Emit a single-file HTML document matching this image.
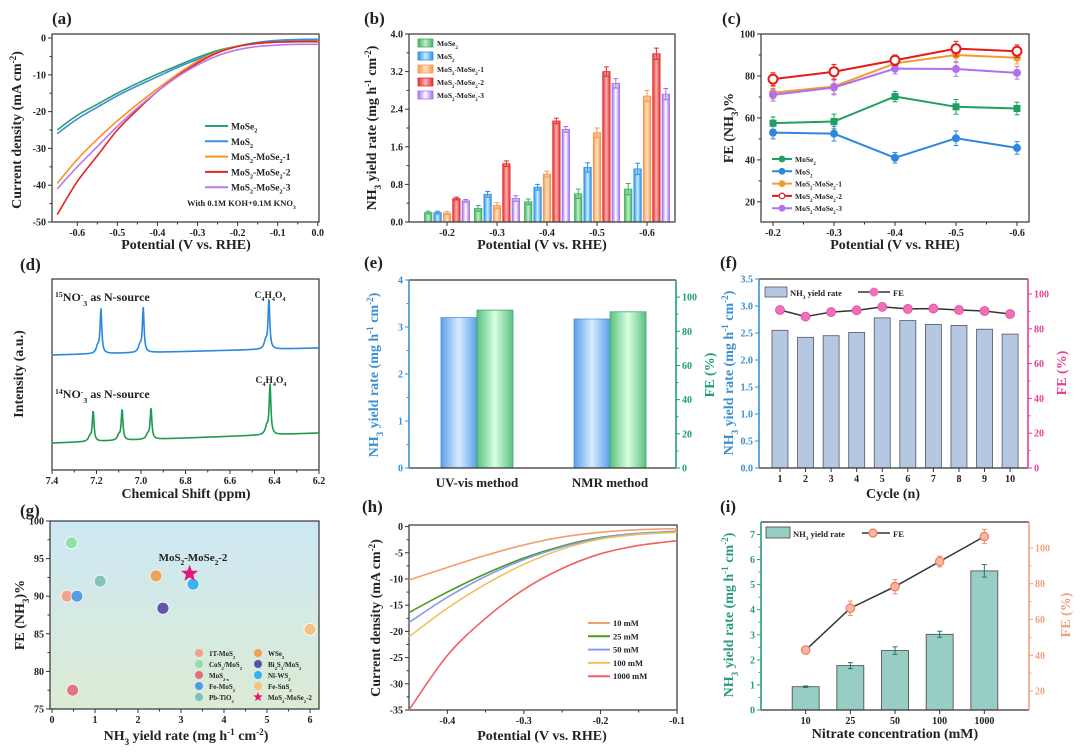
<!DOCTYPE html>
<html><head><meta charset="utf-8"><style>
html,body{margin:0;padding:0;background:#fff;}
svg{display:block;font-family:"Liberation Serif","Noto Serif CJK SC",serif;}
</style></head><body>
<svg id="fig" width="1080" height="754" viewBox="0 0 1080 754" xmlns="http://www.w3.org/2000/svg">
<defs>
<linearGradient id="gBg" x1="0" y1="0" x2="0" y2="1"><stop offset="0" stop-color="#cde8f4"/><stop offset="1" stop-color="#dcebd4"/></linearGradient>
</defs>
</svg>
<script>
// ---------- data ----------
// (a)
const aPot=[-0.65,-0.6,-0.55,-0.5,-0.45,-0.4,-0.35,-0.3,-0.25,-0.2,-0.15,-0.1,-0.05,0];
const aMoSe2=[-25,-21,-18,-15,-12.3,-9.8,-7.5,-5.3,-3.4,-2.2,-1.5,-1,-0.8,-0.7];
const aMoS2=[-26,-22,-18.8,-15.7,-13,-10.5,-8,-5.8,-3.8,-2.2,-1.2,-0.6,-0.4,-0.3];
const aM1=[-39.5,-33,-27.5,-22.5,-18,-13.8,-9.8,-6.3,-3.8,-2.2,-1.5,-1.1,-1,-0.9];
const aM2=[-48,-39,-32,-25,-19.5,-14.5,-10.3,-6.8,-4,-2.3,-1.4,-1.1,-1,-1];
const aM3=[-41,-35,-29.5,-24,-19,-14.5,-10.5,-7.3,-4.8,-3.2,-2.3,-1.9,-1.7,-1.7];
// (b)
const bCats=['-0.2','-0.3','-0.4','-0.5','-0.6'];
const bMoSe2=[0.2,0.29,0.43,0.6,0.7];
const bMoS2=[0.2,0.59,0.74,1.16,1.13];
const bM1=[0.19,0.35,1.02,1.9,2.68];
const bM2=[0.5,1.24,2.15,3.2,3.58];
const bM3=[0.45,0.5,1.97,2.95,2.72];
const bErr=[0.03,0.06,0.06,0.1,0.12];
// (c)
const cCats=['-0.2','-0.3','-0.4','-0.5','-0.6'];
const cMoSe2=[57.5,58.3,70.2,65.3,64.5];
const cMoS2=[53,52.5,41,50.3,45.7];
const cM1=[72,75,86,90,88.7];
const cM2=[78.5,82,87.5,93,91.8];
const cM3=[71,74.5,83.5,83.3,81.5];
const cErr=[3,3.5,2.5,3.5,3];
// (d) peaks: [ppm, height]
const d15Peaks=[[7.18,23],[6.99,23],[6.425,26]];
const d15Base=[60.2,63.9];
const d14Peaks=[[7.215,15.7],[7.085,16],[6.955,16],[6.42,26]];
const d14Base=[14.1,19.4];
// (e)
const eCats=['UV-vis method','NMR method'];
const eYield=[3.2,3.17];
const eFE=[92.4,91.4];
// (f)
const fCycles=[1,2,3,4,5,6,7,8,9,10];
const fYield=[2.55,2.42,2.45,2.51,2.78,2.73,2.66,2.64,2.57,2.48];
const fFE=[90.8,87,89.6,90.6,92.6,91.4,91.6,90.8,90.2,88.5];
// (g)
const gNames=['1T-MoS_{2}','CoS_{2}/MoS_{2}','MoS_{2-x}','Fe-MoS_{2}','Pb-TiO_{2}','WSe_{2}','Bi_{2}S_{3}/MoS_{2}','Ni-WS_{2}','Fe-SnS_{2}'];
const gX=[0.35,0.45,0.48,0.58,1.12,2.42,2.58,3.28,6.0];
const gY=[90,97.1,77.5,90,92,92.7,88.4,91.6,85.6];
const gColors=['#f4a08a','#8ee0a8','#e0707c','#4f9ae8','#7cc4b8','#f0a050','#5b4fa8','#35b0f0','#f8c080'];
const gStar=[3.2,93];
// (h)
const hPot=[-0.45,-0.4,-0.35,-0.3,-0.25,-0.2,-0.15,-0.1];
const h10=[-10.2,-7.8,-5.5,-3.5,-2,-1.1,-0.6,-0.4];
const h25=[-16.4,-12.5,-9,-6,-3.7,-2.1,-1.3,-0.9];
const h50=[-18.3,-13.5,-9.5,-6.3,-3.9,-2.2,-1.3,-1];
const h100=[-21,-15.6,-11,-7.2,-4.3,-2.4,-1.5,-1.1];
const h1000=[-35,-24.6,-17.5,-12,-8,-5.2,-3.6,-2.7];
// (i)
const iCats=['10','25','50','100','1000'];
const iYield=[0.93,1.77,2.37,3.02,5.55];
const iYErr=[0.03,0.12,0.15,0.12,0.25];
const iFE=[42.9,66.3,78.4,92.4,106.4];
const iFEErr=[1.5,4,4,3,4];

// ---------- helpers ----------
const NS='http://www.w3.org/2000/svg';
const svg=document.getElementById('fig');
function el(tag,attrs,name,parent){
  const e=document.createElementNS(NS,tag);
  for(const k in attrs) e.setAttribute(k,attrs[k]);
  
  
  (parent||svg).appendChild(e);
  return e;
}
function fmt(s){
  return s.replace(/_\{([^}]*)\}/g,'<tspan baseline-shift="sub" font-size="65%">$1</tspan>')
          .replace(/\^\{([^}]*)\}/g,'<tspan baseline-shift="super" font-size="65%">$1</tspan>');
}
function text(x,y,s,size,name,opts){
  const e=el('text',Object.assign({x:x,y:y,'font-size':size,'font-weight':'bold','text-anchor':'middle',fill:'#222'},opts||{}),name);
  e.innerHTML=fmt(s);return e;
}
function rtext(x,y,s,size,name,opts){
  return text(x,y,s,size,name,Object.assign({transform:'rotate(-90 '+x+' '+y+')'},opts||{}));
}
function P(x0,x1,y0,y1,xd,yd,yd2){
  const p={x0,x1,y0,y1};
  p.sx=v=>x0+(v-xd[0])/(xd[1]-xd[0])*(x1-x0);
  p.sy=v=>y1-(v-yd[0])/(yd[1]-yd[0])*(y1-y0);
  if(yd2) p.sy2=v=>y1-(v-yd2[0])/(yd2[1]-yd2[0])*(y1-y0);
  return p;
}
function frame(p,name,bg){
  el('rect',{x:p.x0,y:p.y0,width:p.x1-p.x0,height:p.y1-p.y0,fill:bg||'none',stroke:'#333','stroke-width':1.2},name);
}
function yTicks(p,vals,labels,name,o){
  o=o||{};const right=o.right,sy=right?p.sy2:p.sy,col=o.color||'#222';
  const x=right?p.x1:p.x0,d=right?1:-1;
  if(o.axisColor) el('line',{x1:x,x2:x,y1:p.y0,y2:p.y1,stroke:o.axisColor,'stroke-width':1.6},name+'-line');
  vals.forEach((v,i)=>{
    const y=sy(v);
    el('line',{x1:x,x2:x+4*d,y1:y,y2:y,stroke:o.axisColor||'#333','stroke-width':1},name+'-tick');
    text(x+6*d,y+3.5,labels[i],o.size||10,name+'-label',{'text-anchor':right?'start':'end',fill:col});
    if(o.minor&&i<vals.length-1){const ym=sy((v+vals[i+1])/2);
      el('line',{x1:x,x2:x+2.5*d,y1:ym,y2:ym,stroke:o.axisColor||'#333','stroke-width':1},name+'-minor-tick');}
  });
}
function xTicks(p,vals,labels,name,o){
  o=o||{};
  vals.forEach((v,i)=>{
    const x=p.sx(v);
    el('line',{x1:x,x2:x,y1:p.y1,y2:p.y1+4,stroke:'#333','stroke-width':1},name+'-tick');
    if(labels[i]!=='') text(x,p.y1+14,labels[i],o.size||10,name+'-label');
    if(o.minor&&i<vals.length-1){const xm=p.sx((v+vals[i+1])/2);
      el('line',{x1:xm,x2:xm,y1:p.y1,y2:p.y1+2.5,stroke:'#333','stroke-width':1},name+'-minor-tick');}
  });
}
function smooth(pts){
  let d='M'+pts[0][0]+','+pts[0][1];
  for(let i=0;i<pts.length-1;i++){
    const p0=pts[i-1]||pts[i],p1=pts[i],p2=pts[i+1],p3=pts[i+2]||p2;
    const c1=[p1[0]+(p2[0]-p0[0])/6,p1[1]+(p2[1]-p0[1])/6];
    const c2=[p2[0]-(p3[0]-p1[0])/6,p2[1]-(p3[1]-p1[1])/6];
    d+='C'+c1[0]+','+c1[1]+' '+c2[0]+','+c2[1]+' '+p2[0]+','+p2[1];
  }
  return d;
}
function curve(p,xs,ys,color,name,w){
  el('path',{d:smooth(xs.map((x,i)=>[p.sx(x),p.sy(ys[i])])),fill:'none',stroke:color,'stroke-width':w||1.6},name);
}
function grad(id,c,light){
  const defs=svg.querySelector('defs');
  const g=el('linearGradient',{id:id,x1:0,y1:0,x2:1,y2:0},'gradient',defs);
  el('stop',{offset:0,'stop-color':c},'stop',g);
  el('stop',{offset:0.5,'stop-color':light},'stop',g);
  el('stop',{offset:1,'stop-color':c},'stop',g);
}
function errbar(x,yTop,yBot,color,name){
  el('line',{x1:x,x2:x,y1:yTop,y2:yBot,stroke:color,'stroke-width':1},name);
  el('line',{x1:x-2.5,x2:x+2.5,y1:yTop,y2:yTop,stroke:color,'stroke-width':1},name+'-cap');
  el('line',{x1:x-2.5,x2:x+2.5,y1:yBot,y2:yBot,stroke:color,'stroke-width':1},name+'-cap');
}
function rng(a,b,s){const r=[];for(let v=a;v<=b+1e-9;v+=s)r.push(+v.toFixed(4));return r;}

// ---------- panel (a) ----------
(function(){
  const p=P(52,319,34,222,[-0.663,0.003],[-50,1.1]);
  frame(p,'panel-a-frame');
  const yv=rng(-50,0,10);yTicks(p,yv,yv.map(String),'panel-a-y',{minor:true});
  const xv=[-0.6,-0.5,-0.4,-0.3,-0.2,-0.1,0];xTicks(p,xv,xv.map(v=>v.toFixed(1)),'panel-a-x',{minor:true});
  const cols=['#2aa070','#3b8ee0','#f5922a','#e52222','#bb77ee'];
  const ser=[aMoSe2,aMoS2,aM1,aM2,aM3];
  const names=['MoSe_{2}','MoS_{2}','MoS_{2}-MoSe_{2}-1','MoS_{2}-MoSe_{2}-2','MoS_{2}-MoSe_{2}-3'];
  ser.forEach((s,i)=>curve(p,aPot,s,cols[i],'panel-a-curve-'+i));
  names.forEach((n,i)=>{const y=126+i*15.3;
    el('line',{x1:205,x2:228,y1:y,y2:y,stroke:cols[i],'stroke-width':2},'panel-a-legend-line');
    text(231,y+3.5,n,9.5,'panel-a-legend-label',{'text-anchor':'start'});});
  text(187,206,'With 0.1M KOH+0.1M KNO_{3}',8.5,'panel-a-condition-note',{'text-anchor':'start'});
  text(52,24,'(a)',17,'panel-a-letter',{'text-anchor':'start'});
  text(186,249,'Potential (V vs. RHE)',14,'panel-a-x-title');
  rtext(21,130,'Current density (mA cm^{-2})',14,'panel-a-y-title');
})();

// ---------- panel (b) ----------
(function(){
  const p=P(409,675,34,222,[-0.76,4.56],[0,4]);
  const cols=[['#3fb060','#c0f0c8'],['#2f8ee8','#c8f0ff'],['#f59a50','#ffe0c0'],['#e03030','#ffb0b0'],['#a070f0','#ffffff']];
  cols.forEach((c,i)=>grad('gb'+i,c[0],c[1]));
  const ser=[bMoSe2,bMoS2,bM1,bM2,bM3];
  const bw=7.4;
  ser.forEach((s,k)=>s.forEach((v,i)=>{
    const cx=p.sx(i)+(k-2)*9.4;
    el('rect',{x:cx-bw/2,y:p.sy(v),width:bw,height:p.sy(0)-p.sy(v),fill:'url(#gb'+k+')',stroke:cols[k][0],'stroke-width':0.8},'panel-b-bar');
    errbar(cx,p.sy(v+bErr[i]),p.sy(Math.max(0,v-bErr[i])),cols[k][0],'panel-b-error-bar');
  }));
  frame(p,'panel-b-frame');
  const yv=rng(0,4,0.8);yTicks(p,yv,yv.map(v=>v.toFixed(1)),'panel-b-y',{minor:true});
  xTicks(p,[0,1,2,3,4],bCats,'panel-b-x');
  const names=['MoSe_{2}','MoS_{2}','MoS_{2}-MoSe_{2}-1','MoS_{2}-MoSe_{2}-2','MoS_{2}-MoSe_{2}-3'];
  names.forEach((n,i)=>{const y=43+i*13;
    el('rect',{x:418,y:y-4,width:15,height:8,fill:'url(#gb'+i+')',stroke:cols[i][0],'stroke-width':0.8},'panel-b-legend-swatch');
    text(437,y+3,n,7.5,'panel-b-legend-label',{'text-anchor':'start'});});
  text(364,24,'(b)',17,'panel-b-letter',{'text-anchor':'start'});
  text(542,249,'Potential (V vs. RHE)',14,'panel-b-x-title');
  rtext(376,128,'NH_{3} yield rate (mg h^{-1} cm^{-2})',14,'panel-b-y-title');
})();

// ---------- panel (c) ----------
(function(){
  const p=P(761,1029,34,222,[-0.197,4.197],[10.4,100]);
  frame(p,'panel-c-frame');
  const yv=[20,40,60,80,100];yTicks(p,yv,yv.map(String),'panel-c-y',{minor:true});
  xTicks(p,[0,1,2,3,4],cCats,'panel-c-x',{minor:true});
  const cols=['#1fa060','#2f86e0','#f59a30','#e51a1a','#b070ee'];
  const ser=[cMoSe2,cMoS2,cM1,cM3,cM2];const ord=[0,1,2,4,3];
  ser.forEach((s,j)=>{const k=ord[j];
    el('path',{d:'M'+s.map((v,i)=>p.sx(i)+','+p.sy(v)).join('L'),fill:'none',stroke:cols[k],'stroke-width':2},'panel-c-line-'+k);
    s.forEach((v,i)=>{const x=p.sx(i),y=p.sy(v);
      errbar(x,p.sy(v+cErr[i]),p.sy(v-cErr[i]),cols[k],'panel-c-error-bar');
      if(k===0) el('rect',{x:x-3.5,y:y-3.5,width:7,height:7,fill:cols[k]},'panel-c-marker');
      else if(k===3) el('circle',{cx:x,cy:y,r:4.5,fill:'#fff',stroke:cols[k],'stroke-width':2},'panel-c-marker');
      else el('circle',{cx:x,cy:y,r:4,fill:cols[k]},'panel-c-marker');
    });
  });
  const names=['MoSe_{2}','MoS_{2}','MoS_{2}-MoSe_{2}-1','MoS_{2}-MoSe_{2}-2','MoS_{2}-MoSe_{2}-3'];
  names.forEach((n,i)=>{const y=159+i*12.3;
    el('line',{x1:772,x2:792,y1:y,y2:y,stroke:cols[i],'stroke-width':2},'panel-c-legend-line');
    el('circle',{cx:782,cy:y,r:2.8,fill:i===3?'#fff':cols[i],stroke:cols[i],'stroke-width':1.2},'panel-c-legend-marker');
    text(795,y+3,n,7.5,'panel-c-legend-label',{'text-anchor':'start'});});
  text(722,24,'(c)',17,'panel-c-letter',{'text-anchor':'start'});
  text(895,249,'Potential (V vs. RHE)',14,'panel-c-x-title');
  rtext(733,128,'FE (NH_{3})%',14,'panel-c-y-title');
})();

// ---------- panel (d) ----------
(function(){
  const p=P(52,319,279,470,[7.4,6.2],[0,100]);
  frame(p,'panel-d-frame');
  const xv=rng(6.2,7.4,0.2).reverse();xTicks(p,xv,xv.map(v=>v.toFixed(1)),'panel-d-x',{minor:true});
  function spec(peaks,base,color,name){
    const pts=[];
    for(let x=7.4;x>=6.2;x-=0.002){
      let y=base[0]+(base[1]-base[0])*(7.4-x)/1.2;
      peaks.forEach(pk=>{
        y+=pk[1]/(1+Math.pow((x-pk[0])/0.0045,2));
        y+=0.15*pk[1]/(1+Math.pow((x-pk[0]-0.015)/0.008,2));
      });
      pts.push(p.sx(x).toFixed(2)+','+p.sy(y).toFixed(2));
    }
    el('path',{d:'M'+pts.join('L'),fill:'none',stroke:color,'stroke-width':1.6},name);
  }
  spec(d15Peaks,d15Base,'#2a88e0','panel-d-spectrum-15N');
  spec(d14Peaks,d14Base,'#1e9a50','panel-d-spectrum-14N');
  text(55,301,'^{15}NO^{-}_{3} as N-source',12,'panel-d-label-15N',{'text-anchor':'start'});
  text(55,398,'^{14}NO^{-}_{3} as N-source',12,'panel-d-label-14N',{'text-anchor':'start'});
  text(270,298,'C_{4}H_{4}O_{4}',9.5,'panel-d-peak-label');
  text(271,383,'C_{4}H_{4}O_{4}',9.5,'panel-d-peak-label');
  text(20,270,'(d)',17,'panel-d-letter',{'text-anchor':'start'});
  text(186,498,'Chemical Shift (ppm)',14,'panel-d-x-title');
  rtext(23,374,'Intensity (a.u.)',14,'panel-d-y-title');
})();

// ---------- panel (e) ----------
(function(){
  const p=P(409,676,280,468,[-0.511,1.496],[0,4],[0,110]);
  grad('geB','#5aa0e8','#d8ecff');grad('geG','#5cc080','#d8ffe0');
  eYield.forEach((v,i)=>el('rect',{x:p.sx(i)-36,y:p.sy(v),width:36,height:p.sy(0)-p.sy(v),fill:'url(#geB)',stroke:'#4a90d8','stroke-width':0.8},'panel-e-yield-bar'));
  eFE.forEach((v,i)=>el('rect',{x:p.sx(i),y:p.sy2(v),width:36,height:p.sy2(0)-p.sy2(v),fill:'url(#geG)',stroke:'#3aa870','stroke-width':0.8},'panel-e-fe-bar'));
  el('line',{x1:p.x0,x2:p.x1,y1:p.y1,y2:p.y1,stroke:'#333','stroke-width':1.2},'panel-e-x-axis');
  el('line',{x1:p.x0,x2:p.x1,y1:p.y0,y2:p.y0,stroke:'#333','stroke-width':1.2},'panel-e-top-axis');
  const yv=[0,1,2,3,4];yTicks(p,yv,yv.map(String),'panel-e-y-left',{minor:true,color:'#3a8fd0',axisColor:'#3a8fd0'});
  const y2=[0,20,40,60,80,100];yTicks(p,y2,y2.map(String),'panel-e-y-right',{right:true,minor:true,color:'#1e9e70',axisColor:'#1e9e70'});
  eCats.forEach((c,i)=>text(p.sx(i),487,c,13,'panel-e-category-label'));
  text(364,268,'(e)',17,'panel-e-letter',{'text-anchor':'start'});
  rtext(378,375,'NH_{3} yield rate (mg h^{-1} cm^{-2})',14,'panel-e-y-left-title',{fill:'#3a8fd0'});
  rtext(714,375,'FE (%)',14,'panel-e-y-right-title',{fill:'#1e9e70'});
})();

// ---------- panel (f) ----------
(function(){
  const p=P(759,1028,279,468,[0.18,10.7],[0,3.5],[0,108.6]);
  fYield.forEach((v,i)=>el('rect',{x:p.sx(fCycles[i])-8,y:p.sy(v),width:16,height:p.sy(0)-p.sy(v),fill:'#b4c8e2',stroke:'#556','stroke-width':0.8},'panel-f-yield-bar'));
  el('path',{d:'M'+fFE.map((v,i)=>p.sx(fCycles[i])+','+p.sy2(v)).join('L'),fill:'none',stroke:'#333','stroke-width':1.5},'panel-f-fe-line');
  fFE.forEach((v,i)=>el('circle',{cx:p.sx(fCycles[i]),cy:p.sy2(v),r:4.5,fill:'#f070b8',stroke:'#e04a9e','stroke-width':0.8},'panel-f-fe-point'));
  el('line',{x1:p.x0,x2:p.x1,y1:p.y1,y2:p.y1,stroke:'#333','stroke-width':1.2},'panel-f-x-axis');
  el('line',{x1:p.x0,x2:p.x1,y1:p.y0,y2:p.y0,stroke:'#333','stroke-width':1.2},'panel-f-top-axis');
  const yv=rng(0,3.5,0.5);yTicks(p,yv,yv.map(v=>v.toFixed(1)),'panel-f-y-left',{color:'#3a8fd0',axisColor:'#3a8fd0'});
  const y2=[0,20,40,60,80,100];yTicks(p,y2,y2.map(String),'panel-f-y-right',{right:true,minor:true,color:'#e8409a',axisColor:'#e8409a'});
  xTicks(p,fCycles,fCycles.map(String),'panel-f-x');
  el('rect',{x:765,y:287,width:22,height:10,fill:'#b4c8e2',stroke:'#556','stroke-width':0.8},'panel-f-legend-swatch');
  text(790,296,'NH_{3} yield rate',8.5,'panel-f-legend-label',{'text-anchor':'start'});
  el('line',{x1:858,x2:890,y1:292,y2:292,stroke:'#333','stroke-width':1.5},'panel-f-legend-line');
  el('circle',{cx:874,cy:292,r:4.5,fill:'#f070b8'},'panel-f-legend-marker');
  text(893,296,'FE',8.5,'panel-f-legend-label',{'text-anchor':'start'});
  text(720,268,'(f)',17,'panel-f-letter',{'text-anchor':'start'});
  text(893,498,'Cycle (n)',14,'panel-f-x-title');
  rtext(733,373,'NH_{3} yield rate (mg h^{-1} cm^{-2})',14,'panel-f-y-left-title',{fill:'#3a8fd0'});
  rtext(1066,373,'FE (%)',14,'panel-f-y-right-title',{fill:'#e8409a'});
})();

// ---------- panel (g) ----------
(function(){
  const p=P(50,319,521,709,[-0.047,6.21],[75,100]);
  frame(p,'panel-g-frame','url(#gBg)');
  const yv=[75,80,85,90,95,100];yTicks(p,yv,yv.map(String),'panel-g-y',{minor:true});
  const xv=[0,1,2,3,4,5,6];xTicks(p,xv,xv.map(String),'panel-g-x',{minor:true});
  gX.forEach((x,i)=>el('circle',{cx:p.sx(x),cy:p.sy(gY[i]),r:6,fill:gColors[i],stroke:'#fff','stroke-width':0.8,opacity:0.95},'panel-g-point'));
  function star(cx,cy,r,name){const pts=[];for(let k=0;k<10;k++){const a=-Math.PI/2+k*Math.PI/5,rr=k%2?r*0.42:r;pts.push((cx+rr*Math.cos(a)).toFixed(1)+','+(cy+rr*Math.sin(a)).toFixed(1));}
    el('polygon',{points:pts.join(' '),fill:'#e8157a'},name);}
  star(p.sx(gStar[0]),p.sy(gStar[1]),9,'panel-g-star-point');
  text(193,561,'MoS_{2}-MoSe_{2}-2',11,'panel-g-star-label');
  const all=gNames.concat(['MoS_{2}-MoSe_{2}-2']);
  const order=[0,1,2,3,4,5,6,7,8,9];
  order.forEach((k,j)=>{const col=j<5?0:1,row=j%5;const mx=col?258:199,y=654+row*11;
    if(k===9) star(mx,y-1,5,'panel-g-legend-star');
    else el('circle',{cx:mx,cy:y-1,r:4,fill:gColors[k]},'panel-g-legend-marker');
    text(mx+10,y+2,all[k],7,'panel-g-legend-label',{'text-anchor':'start'});});
  text(20,516,'(g)',17,'panel-g-letter',{'text-anchor':'start'});
  text(186,740,'NH_{3} yield rate (mg h^{-1} cm^{-2})',14,'panel-g-x-title');
  rtext(24,615,'FE (NH_{3})%',14,'panel-g-y-title');
})();

// ---------- panel (h) ----------
(function(){
  const p=P(409,677,525,710,[-0.45,-0.1],[-35,0.3]);
  frame(p,'panel-h-frame');
  const yv=rng(-35,0,5);yTicks(p,yv,yv.map(String),'panel-h-y',{minor:true});
  const xv=[-0.4,-0.3,-0.2,-0.1];xTicks(p,xv,xv.map(v=>v.toFixed(1)),'panel-h-x',{minor:true});
  const cols=['#f0a070','#4a9a20','#8a9af0','#f0c060','#f06060'];
  const ser=[h10,h25,h50,h100,h1000];const names=['10 mM','25 mM','50 mM','100 mM','1000 mM'];
  ser.forEach((s,i)=>curve(p,hPot,s,cols[i],'panel-h-curve-'+i));
  names.forEach((n,i)=>{const y=623+i*13.3;
    el('line',{x1:588,x2:610,y1:y,y2:y,stroke:cols[i],'stroke-width':2},'panel-h-legend-line');
    text(613,y+3,n,8.5,'panel-h-legend-label',{'text-anchor':'start'});});
  text(362,512,'(h)',17,'panel-h-letter',{'text-anchor':'start'});
  text(542,740,'Potential (V vs. RHE)',14,'panel-h-x-title');
  rtext(380,618,'Current density (mA cm^{-2})',14,'panel-h-y-title');
})();

// ---------- panel (i) ----------
(function(){
  const p=P(761,1029,522,710,[-1,5],[0,7.5],[9.4,114.5]);
  iYield.forEach((v,i)=>{const x=p.sx(i);
    el('rect',{x:x-13.5,y:p.sy(v),width:27,height:p.sy(0)-p.sy(v),fill:'#98cdc4',stroke:'#444','stroke-width':0.8},'panel-i-yield-bar');
    errbar(x,p.sy(v+iYErr[i]),p.sy(v-iYErr[i]),'#1e7a66','panel-i-yield-error');});
  el('path',{d:'M'+iFE.map((v,i)=>p.sx(i)+','+p.sy2(v)).join('L'),fill:'none',stroke:'#333','stroke-width':1.5},'panel-i-fe-line');
  iFE.forEach((v,i)=>{const x=p.sx(i);
    errbar(x,p.sy2(v+iFEErr[i]),p.sy2(v-iFEErr[i]),'#f08a70','panel-i-fe-error');
    el('circle',{cx:x,cy:p.sy2(v),r:4.2,fill:'#f9b8a0',stroke:'#f07a60','stroke-width':1.2},'panel-i-fe-point');});
  el('line',{x1:p.x0,x2:p.x1,y1:p.y1,y2:p.y1,stroke:'#333','stroke-width':1.2},'panel-i-x-axis');
  el('line',{x1:p.x0,x2:p.x1,y1:p.y0,y2:p.y0,stroke:'#333','stroke-width':1.2},'panel-i-top-axis');
  const yv=[0,1,2,3,4,5,6,7];yTicks(p,yv,yv.map(String),'panel-i-y-left',{minor:true,color:'#2a9a80',axisColor:'#2a9a80'});
  const y2=[20,40,60,80,100];yTicks(p,y2,y2.map(String),'panel-i-y-right',{right:true,minor:true,color:'#f0a080',axisColor:'#f0a080'});
  xTicks(p,[0,1,2,3,4],iCats,'panel-i-x');
  el('rect',{x:766,y:527,width:24,height:11,fill:'#98cdc4',stroke:'#444','stroke-width':0.8},'panel-i-legend-swatch');
  text(793,537,'NH_{3} yield rate',8.5,'panel-i-legend-label',{'text-anchor':'start'});
  el('line',{x1:862,x2:890,y1:533,y2:533,stroke:'#333','stroke-width':1.5},'panel-i-legend-line');
  el('circle',{cx:873,cy:533,r:4,fill:'#f9b8a0',stroke:'#f07a60','stroke-width':1.2},'panel-i-legend-marker');
  text(893,537,'FE',8.5,'panel-i-legend-label',{'text-anchor':'start'});
  text(720,512,'(i)',17,'panel-i-letter',{'text-anchor':'start'});
  text(895,738,'Nitrate concentration (mM)',14,'panel-i-x-title');
  rtext(733,615,'NH_{3} yield rate (mg h^{-1} cm^{-2})',14,'panel-i-y-left-title',{fill:'#2a9a80'});
  rtext(1070,615,'FE (%)',14,'panel-i-y-right-title',{fill:'#f0a080'});
})();
</script>
</body></html>
